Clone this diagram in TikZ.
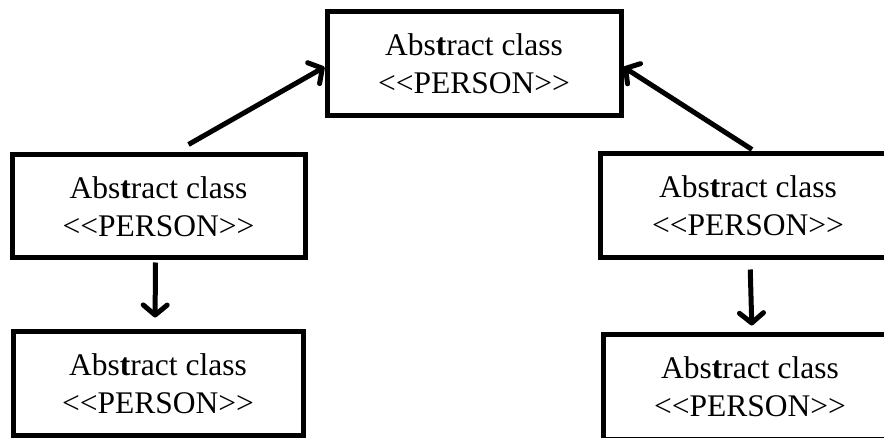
\documentclass[tikz,border=0pt]{standalone}
\usepackage{fontspec}
\setmainfont{Liberation Serif}
\usetikzlibrary{arrows.meta}

\tikzset{
  classbox/.style={draw, line width=5pt, align=center, inner sep=0pt,
    font=\fontsize{31.5}{38}\selectfont},
  arr/.style={line width=5pt, -{Straight Barb[length=10pt,width=24pt,round]}}
}

\begin{document}
\begin{tikzpicture}[x=1pt, y=-1pt]
  \useasboundingbox (0,0) rectangle (884,438);

  % Classes
  \node[classbox, minimum width=294pt, minimum height=104pt] (top) at (474,64)
    {Abs\textbf{t}ract class\\<{}<PERSON>{}>};
  \node[classbox, minimum width=293pt, minimum height=103pt] (lmid) at (158.5,206.5)
    {Abs\textbf{t}ract class\\<{}<PERSON>{}>};
  \node[classbox, minimum width=296pt, minimum height=104pt] (rmid) at (748,206)
    {Abs\textbf{t}ract class\\<{}<PERSON>{}>};
  \node[classbox, minimum width=290pt, minimum height=103pt] (lbot) at (158,383.5)
    {Abs\textbf{t}ract class\\<{}<PERSON>{}>};
  \node[classbox, minimum width=294pt, minimum height=104pt] (rbot) at (750,387)
    {Abs\textbf{t}ract class\\<{}<PERSON>{}>};

  % Arrows
  \draw[arr] ([xshift=30pt,yshift=8pt]lmid.north) -- ([yshift=-3pt]top.west);
  \draw[arr] ([xshift=4pt,yshift=2pt]rmid.north) -- ([yshift=-3pt]top.east);
  \draw[arr, shorten <=2pt, shorten >=12pt] ([xshift=-3pt]lmid.south) -- ([xshift=-3pt]lbot.north);
  \draw[arr, shorten <=9pt, shorten >=7pt] ([xshift=2pt]rmid.south) -- ([xshift=2pt]rbot.north);
\end{tikzpicture}
\end{document}
